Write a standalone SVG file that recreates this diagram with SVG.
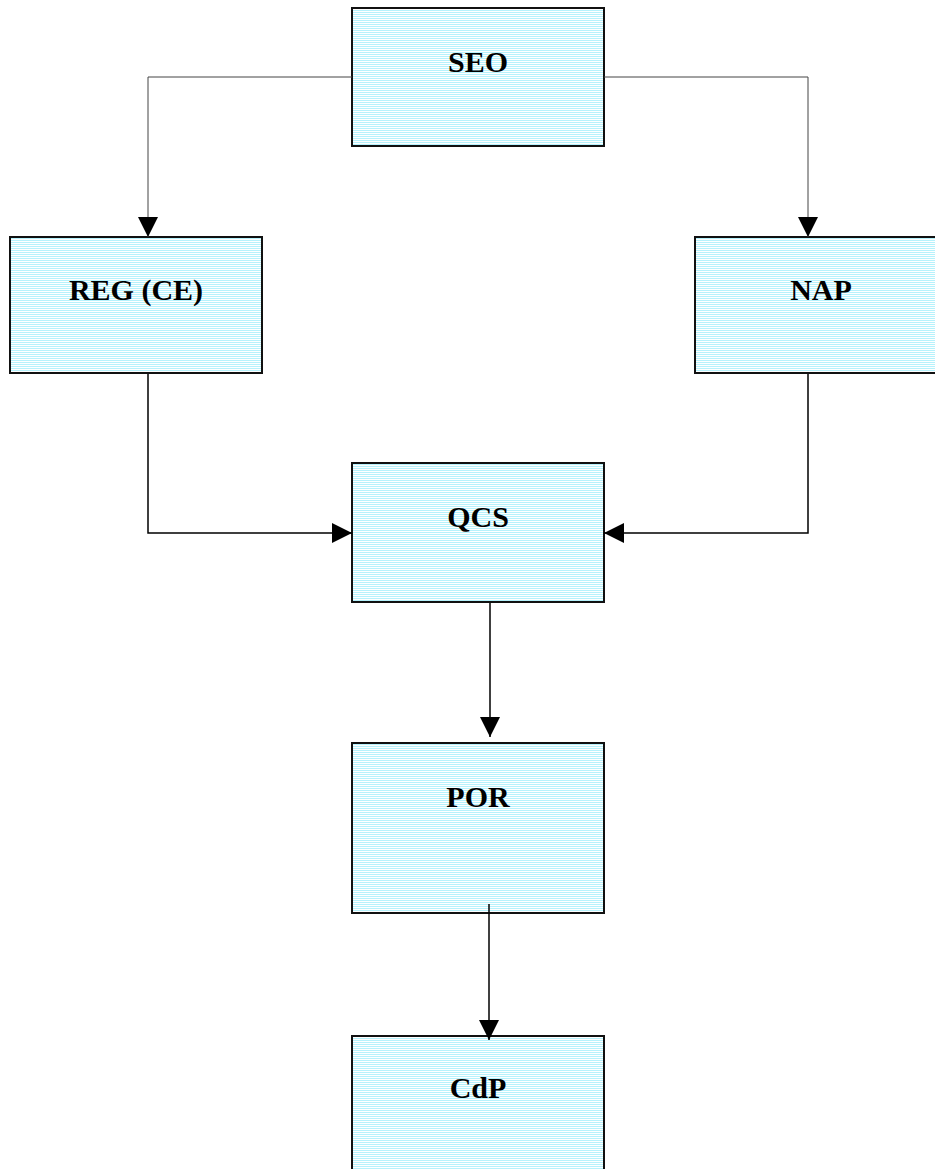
<svg xmlns="http://www.w3.org/2000/svg" width="935" height="1169" viewBox="0 0 935 1169">
<defs>
<pattern id="stripes" width="4" height="2" patternUnits="userSpaceOnUse">
<rect width="4" height="2" fill="#ffffff"/>
<rect width="4" height="1" fill="#b6f2fc"/>
</pattern>
<marker id="arr" viewBox="0 0 20 20" refX="20" refY="10" markerWidth="20" markerHeight="20" markerUnits="userSpaceOnUse" orient="auto">
<path d="M0,0 L20,10 L0,20 z" fill="#000"/>
</marker>
</defs>
<style>
.box{fill:url(#stripes);stroke:#111;stroke-width:2}
.lbl{font-family:"Liberation Serif","Times New Roman",serif;font-weight:bold;font-size:30px;text-anchor:middle;fill:#000}
.thin{fill:none;stroke:#444;stroke-width:1}
.thick{fill:none;stroke:#000;stroke-width:1.5}
</style>
<rect width="935" height="1169" fill="#fff"/>
<g id="SEO"><rect class="box" x="352" y="8" width="252" height="138"/><text class="lbl" x="478" y="72">SEO</text></g>
<g id="REG"><rect class="box" x="10" y="237" width="252" height="136"/><text class="lbl" x="136" y="300">REG (CE)</text></g>
<g id="NAP"><rect class="box" x="695" y="237" width="252" height="136"/><text class="lbl" x="821" y="300">NAP</text></g>
<g id="QCS"><rect class="box" x="352" y="463" width="252" height="139"/><text class="lbl" x="478" y="527">QCS</text></g>
<g id="POR"><rect class="box" x="352" y="743" width="252" height="170"/><text class="lbl" x="478" y="807">POR</text></g>
<g id="CdP"><rect class="box" x="352" y="1036" width="252" height="150"/><text class="lbl" x="478" y="1098">CdP</text></g>
<g id="connectors">
<path class="thin" d="M352,77 H148 V237" marker-end="url(#arr)"/>
<path class="thin" d="M604,77 H808 V237" marker-end="url(#arr)"/>
<path class="thick" d="M148,374 V533 H352" marker-end="url(#arr)"/>
<path class="thick" d="M808,374 V533 H604" marker-end="url(#arr)"/>
<path class="thick" d="M490,603 V737" marker-end="url(#arr)"/>
<path class="thick" d="M489,904 V1040" marker-end="url(#arr)"/>
</g>
</svg>
